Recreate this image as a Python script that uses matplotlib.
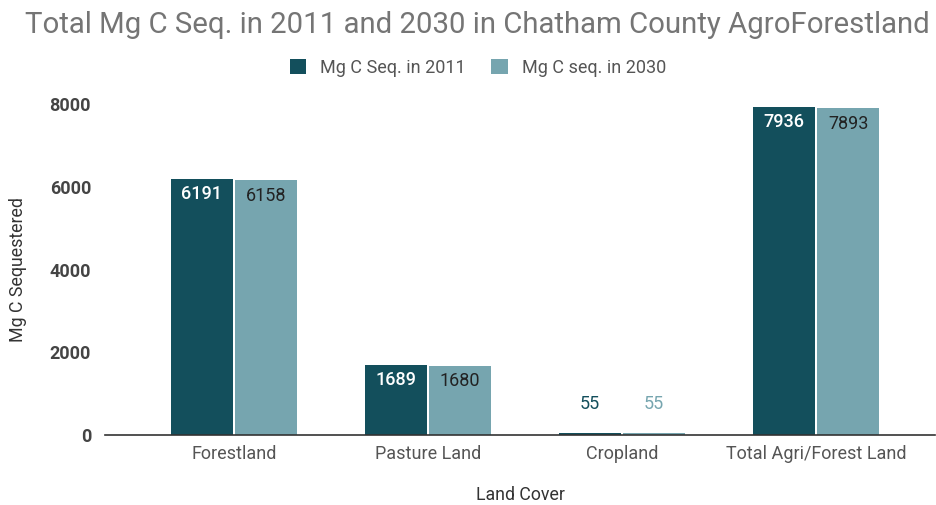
import numpy as np
import matplotlib.pyplot as plt

plt.rcParams['font.family'] = ['Roboto', 'DejaVu Sans']

# Land cover classes and carbon sequestered (Mg C)
categories = ['Forestland', 'Pasture Land', 'Cropland', 'Total Agri/Forest Land']
seq_2011 = [6191, 1689, 55, 7936]
seq_2030 = [6158, 1680, 55, 7893]

dark = '#134f5c'
light = '#76a5af'

fig = plt.figure(figsize=(9.37, 5.05), dpi=100)
ax = fig.add_axes([0.112, 0.1386, 0.886, 0.6554])

x = np.arange(len(categories))
w = 0.32
off = 0.165
b1 = ax.bar(x - off, seq_2011, width=w, color=dark, label='Mg C Seq. in 2011')
b2 = ax.bar(x + off, seq_2030, width=w, color=light, label='Mg C seq. in 2030')

# value labels: inside tall bars, above short ones
for bars, vals, inside_col, out_col in [(b1, seq_2011, 'white', dark),
                                         (b2, seq_2030, '#222222', light)]:
    for rect, v in zip(bars, vals):
        cx = rect.get_x() + rect.get_width() / 2
        if v > 800:
            ax.annotate(str(v), (cx, v), xytext=(0, -11), textcoords='offset points',
                        ha='center', va='center', fontsize=13, color=inside_col,
                        fontweight='medium' if inside_col == 'white' else 'normal')
        else:
            ax.annotate(str(v), (cx, v), xytext=(0, 21), textcoords='offset points',
                        ha='center', va='center', fontsize=13, color=out_col)

ax.set_xlim(-0.665, 3.613)
ax.set_ylim(0, 8000)
ax.set_yticks([0, 2000, 4000, 6000, 8000])
ax.set_xticks(x)
ax.set_xticklabels(categories, fontsize=13, color='#555555')
for lbl in ax.get_yticklabels():
    lbl.set_fontweight('bold')
    lbl.set_fontsize(13)
    lbl.set_color('#444444')
ax.tick_params(axis='both', length=0)
ax.tick_params(axis='y', pad=10)
ax.tick_params(axis='x', pad=7)

for s in ['top', 'right', 'left']:
    ax.spines[s].set_visible(False)
ax.spines['bottom'].set_color('#333333')
ax.spines['bottom'].set_linewidth(1.2)

ax.set_xlabel('Land Cover', fontsize=12.8, color='#333333', labelpad=17)
ax.set_ylabel('Mg C Sequestered', fontsize=12.8, color='#333333', labelpad=16)

fig.text(477 / 937, 1 - 25 / 505, 'Total Mg C Seq. in 2011 and 2030 in Chatham County AgroForestland',
         ha='center', va='center', fontsize=21.2, color='#757575')

fig.legend(handles=[b1, b2], loc='center', bbox_to_anchor=(478 / 937, 1 - 68 / 505),
           ncol=2, frameon=False, fontsize=13, labelcolor='#555555',
           handlelength=0.9, handleheight=0.9, handletextpad=0.8, columnspacing=1.4)

fig.savefig('out.png', dpi=100)
